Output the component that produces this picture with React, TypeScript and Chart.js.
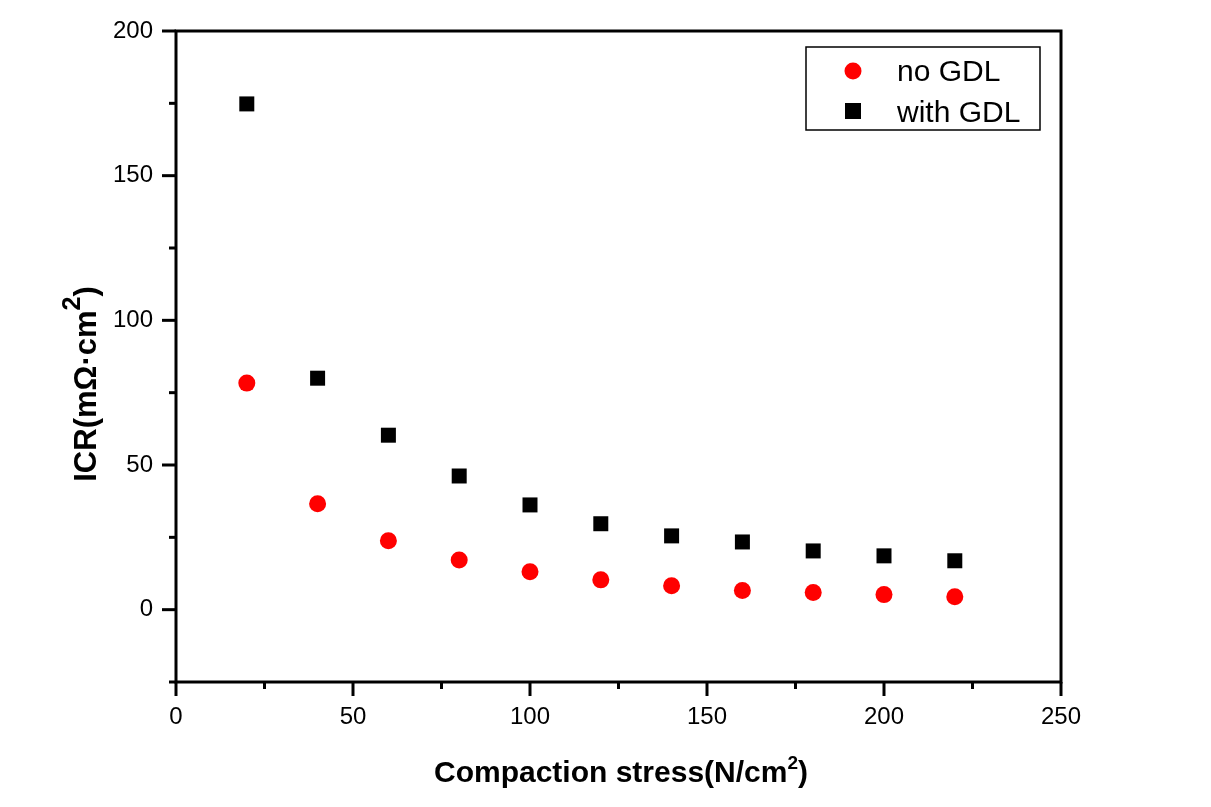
import React, { useEffect, useRef } from "react";
import { Chart, registerables } from "chart.js";

Chart.register(...registerables);

const stress = [20, 40, 60, 80, 100, 120, 140, 160, 180, 200, 220];
const noGDL = [78.3, 36.6, 23.8, 17.2, 13.1, 10.3, 8.3, 6.6, 5.9, 5.2, 4.5];
const withGDL = [174.8, 80.0, 60.3, 46.2, 36.2, 29.7, 25.5, 23.4, 20.3, 18.6, 16.9];
const seriesNames = ["no GDL", "with GDL"];
const xTitle = "Compaction stress(N/cm";
const yTitle = "ICR(mΩ·cm";

const FONT = "'Liberation Sans', Arial, sans-serif";

const framePlugin = {
  id: "frame",
  afterDraw(chart: any) {
    const { ctx, chartArea } = chart;
    const { left, right, top, bottom } = chartArea;
    const xs = chart.scales.x;
    const ys = chart.scales.y;
    ctx.save();
    ctx.strokeStyle = "#000";
    ctx.lineWidth = 3;
    ctx.strokeRect(left, top, right - left, bottom - top);
    ctx.lineWidth = 3;
    xs.ticks.forEach((t: any) => {
      const px = xs.getPixelForValue(t.value);
      const len = t.value % 50 === 0 ? 14 : 7;
      ctx.beginPath();
      ctx.moveTo(px, bottom);
      ctx.lineTo(px, bottom + len);
      ctx.stroke();
    });
    ys.ticks.forEach((t: any) => {
      const py = ys.getPixelForValue(t.value);
      const len = t.value % 50 === 0 ? 14 : 7;
      ctx.beginPath();
      ctx.moveTo(left, py);
      ctx.lineTo(left - len, py);
      ctx.stroke();
    });

    // X title with superscript
    ctx.fillStyle = "#000";
    ctx.font = `bold 30px ${FONT}`;
    ctx.textBaseline = "alphabetic";
    ctx.textAlign = "left";
    const supFont = `bold 19px ${FONT}`;
    const w1 = ctx.measureText(xTitle).width;
    ctx.font = supFont;
    const w2 = ctx.measureText("2").width;
    ctx.font = `bold 30px ${FONT}`;
    const w3 = ctx.measureText(")").width;
    const total = w1 + w2 + w3;
    const cx = 621;
    const sx = cx - total / 2;
    const by = 782;
    ctx.fillText(xTitle, sx, by);
    ctx.font = supFont;
    ctx.fillText("2", sx + w1, by - 13);
    ctx.font = `bold 30px ${FONT}`;
    ctx.fillText(")", sx + w1 + w2, by);

    // Y title rotated
    ctx.save();
    ctx.translate(96, 384);
    ctx.rotate(-Math.PI / 2);
    ctx.font = `bold 31px ${FONT}`;
    const yw1 = ctx.measureText(yTitle).width;
    const ysup = `bold 25px ${FONT}`;
    ctx.font = ysup;
    const yw2 = ctx.measureText("2").width;
    ctx.font = `bold 31px ${FONT}`;
    const yw3 = ctx.measureText(")").width;
    const ytot = yw1 + yw2 + yw3;
    const ysx = -ytot / 2;
    ctx.fillText(yTitle, ysx, 0);
    ctx.font = ysup;
    ctx.fillText("2", ysx + yw1, -16);
    ctx.font = `bold 31px ${FONT}`;
    ctx.fillText(")", ysx + yw1 + yw2, 0);
    ctx.restore();

    // Legend
    ctx.lineWidth = 1.5;
    ctx.strokeStyle = "#000";
    ctx.strokeRect(806, 47, 234, 83);
    ctx.fillStyle = "#ff0000";
    ctx.beginPath();
    ctx.arc(853, 71, 8.5, 0, Math.PI * 2);
    ctx.fill();
    ctx.fillStyle = "#000";
    ctx.fillRect(845, 103, 16, 16);
    ctx.font = `30px ${FONT}`;
    ctx.textAlign = "left";
    ctx.textBaseline = "alphabetic";
    ctx.fillText(seriesNames[0], 897, 81);
    ctx.fillText(seriesNames[1], 897, 122);
    ctx.restore();
  },
};

export default function App() {
  const ref = useRef<HTMLCanvasElement>(null);
  useEffect(() => {
    if (!ref.current) return;
    const chart = new Chart(ref.current, {
      type: "scatter",
      data: {
        datasets: [
          {
            label: seriesNames[0],
            data: stress.map((x, i) => ({ x, y: noGDL[i] })),
            pointStyle: "circle",
            pointRadius: 8.5,
            pointHoverRadius: 8.5,
            backgroundColor: "#ff0000",
            borderColor: "#ff0000",
            borderWidth: 0,
          },
          {
            label: seriesNames[1],
            data: stress.map((x, i) => ({ x, y: withGDL[i] })),
            pointStyle: "rect",
            pointRadius: 10.6,
            pointHoverRadius: 10.6,
            backgroundColor: "#000",
            borderColor: "#000",
            borderWidth: 0,
          },
        ],
      },
      options: {
        animation: false,
        responsive: false,
        devicePixelRatio: 1,
        layout: { padding: { left: 0, right: 150, top: 31, bottom: 0 } },
        plugins: { legend: { display: false }, tooltip: { enabled: false } },
        scales: {
          x: {
            type: "linear",
            min: 0,
            max: 250,
            grid: { display: false, drawTicks: false },
            border: { display: false },
            ticks: {
              stepSize: 25,
              autoSkip: false,
              maxRotation: 0,
              padding: 21,
              color: "#000",
              font: { family: FONT, size: 24 },
              callback: (v: any) => (Number(v) % 50 === 0 ? String(v) : ""),
            },
            afterFit: (s: any) => {
              s.height = 125;
              s.paddingLeft = 0;
              s.paddingRight = 0;
            },
          },
          y: {
            type: "linear",
            min: -25,
            max: 200,
            grid: { display: false, drawTicks: false },
            border: { display: false },
            ticks: {
              stepSize: 25,
              autoSkip: false,
              padding: 23,
              color: "#000",
              font: { family: FONT, size: 24 },
              callback: (v: any) => (Number(v) % 50 === 0 ? String(v) : ""),
            },
            afterFit: (s: any) => {
              s.width = 176;
              s.paddingTop = 0;
              s.paddingBottom = 0;
            },
          },
        },
      },
      plugins: [framePlugin],
    });
    return () => chart.destroy();
  }, []);
  return (
    <div style={{ position: "fixed", left: 0, top: 0, width: 1211, height: 807, background: "#fff" }}>
      <canvas ref={ref} width={1211} height={807} style={{ display: "block" }} />
    </div>
  );
}
